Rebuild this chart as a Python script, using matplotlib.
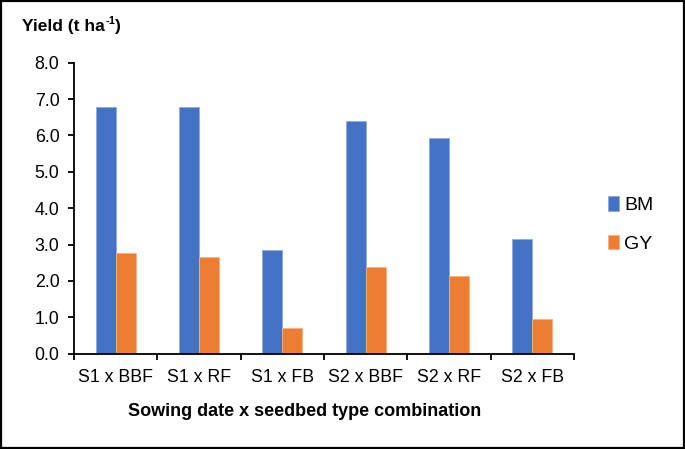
import matplotlib
matplotlib.use("Agg")
import matplotlib.pyplot as plt
import numpy as np
from matplotlib.patches import Rectangle
from matplotlib.transforms import offset_copy

categories = ["S1 x BBF", "S1 x RF", "S1 x FB", "S2 x BBF", "S2 x RF", "S2 x FB"]
bm = [6.79, 6.79, 2.86, 6.41, 5.94, 3.14]
gy = [2.78, 2.66, 0.72, 2.39, 2.15, 0.96]
series_names = ["BM", "GY"]
yticks = [0, 1, 2, 3, 4, 5, 6, 7, 8]

plt.rcParams['font.family'] = ['Liberation Sans', 'DejaVu Sans']

fig = plt.figure(figsize=(6.85, 4.49), dpi=100)
ax = fig.add_axes([0.108, 0.2122, 0.730, 0.6482])

x = np.arange(len(categories))
w = 0.24
c_bm = "#4472C4"
c_gy = "#ED7D31"
ax.bar(x - w/2, bm, w, color=c_bm, label=series_names[0], edgecolor="#8FAADC", linewidth=0.6)
ax.bar(x + w/2, gy, w, color=c_gy, label=series_names[1], edgecolor="#F4B183", linewidth=0.6)

ax.set_xlim(-0.5, len(categories) - 0.5)
ax.set_ylim(0, 8)
ax.set_yticks(yticks)
ax.set_yticklabels([f"{v:.1f}" for v in yticks])
ax.set_xticks(x)
ax.set_xticklabels(categories)
ax.set_xticks(np.arange(len(categories) + 1) - 0.5, minor=True)
ax.tick_params(axis='x', which='major', length=0, pad=11, labelsize=12.8)
ax.tick_params(axis='x', which='minor', length=4.5, width=1.3, direction='out')
ax.tick_params(axis='y', length=4.5, width=1.3, pad=6, labelsize=12.8)

for s in ['top', 'right']:
    ax.spines[s].set_visible(False)
for s in ['left', 'bottom']:
    ax.spines[s].set_linewidth(1.3)

ax.set_xlabel("Sowing date x seedbed type combination", fontsize=13, fontweight='bold')
ax.xaxis.set_label_coords(0.462, -0.2)
ax.xaxis.label.set_va('center')

# Title with superscript
t1 = fig.text(0.032, 0.941, "Yield (t ha", fontsize=12.5, fontweight='bold', va='center', ha='left')
fig.canvas.draw()
r = fig.canvas.get_renderer()
bb = t1.get_window_extent(r)
t2 = fig.text(bb.x1 / fig.bbox.width, 0.941, "-1", fontsize=8, fontweight='bold', va='bottom', ha='left',
              transform=offset_copy(fig.transFigure, fig=fig, x=0.5, y=0.5, units='points'))
bb2 = t2.get_window_extent(r)
fig.text(bb2.x1 / fig.bbox.width, 0.941, ")", fontsize=12.5, fontweight='bold', va='center', ha='left')

leg = fig.legend(loc='center left', bbox_to_anchor=(0.862, 0.5, 0.1, 0.0), frameon=False,
                 fontsize=14, handlelength=0.55, handleheight=0.75, handletextpad=0.3,
                 labelspacing=1.05)

fig.patches.append(Rectangle((0.0015, 0.003), 0.997, 0.994, transform=fig.transFigure,
                             fill=False, edgecolor='black', linewidth=1.6))

fig.savefig("out.png", dpi=100)
